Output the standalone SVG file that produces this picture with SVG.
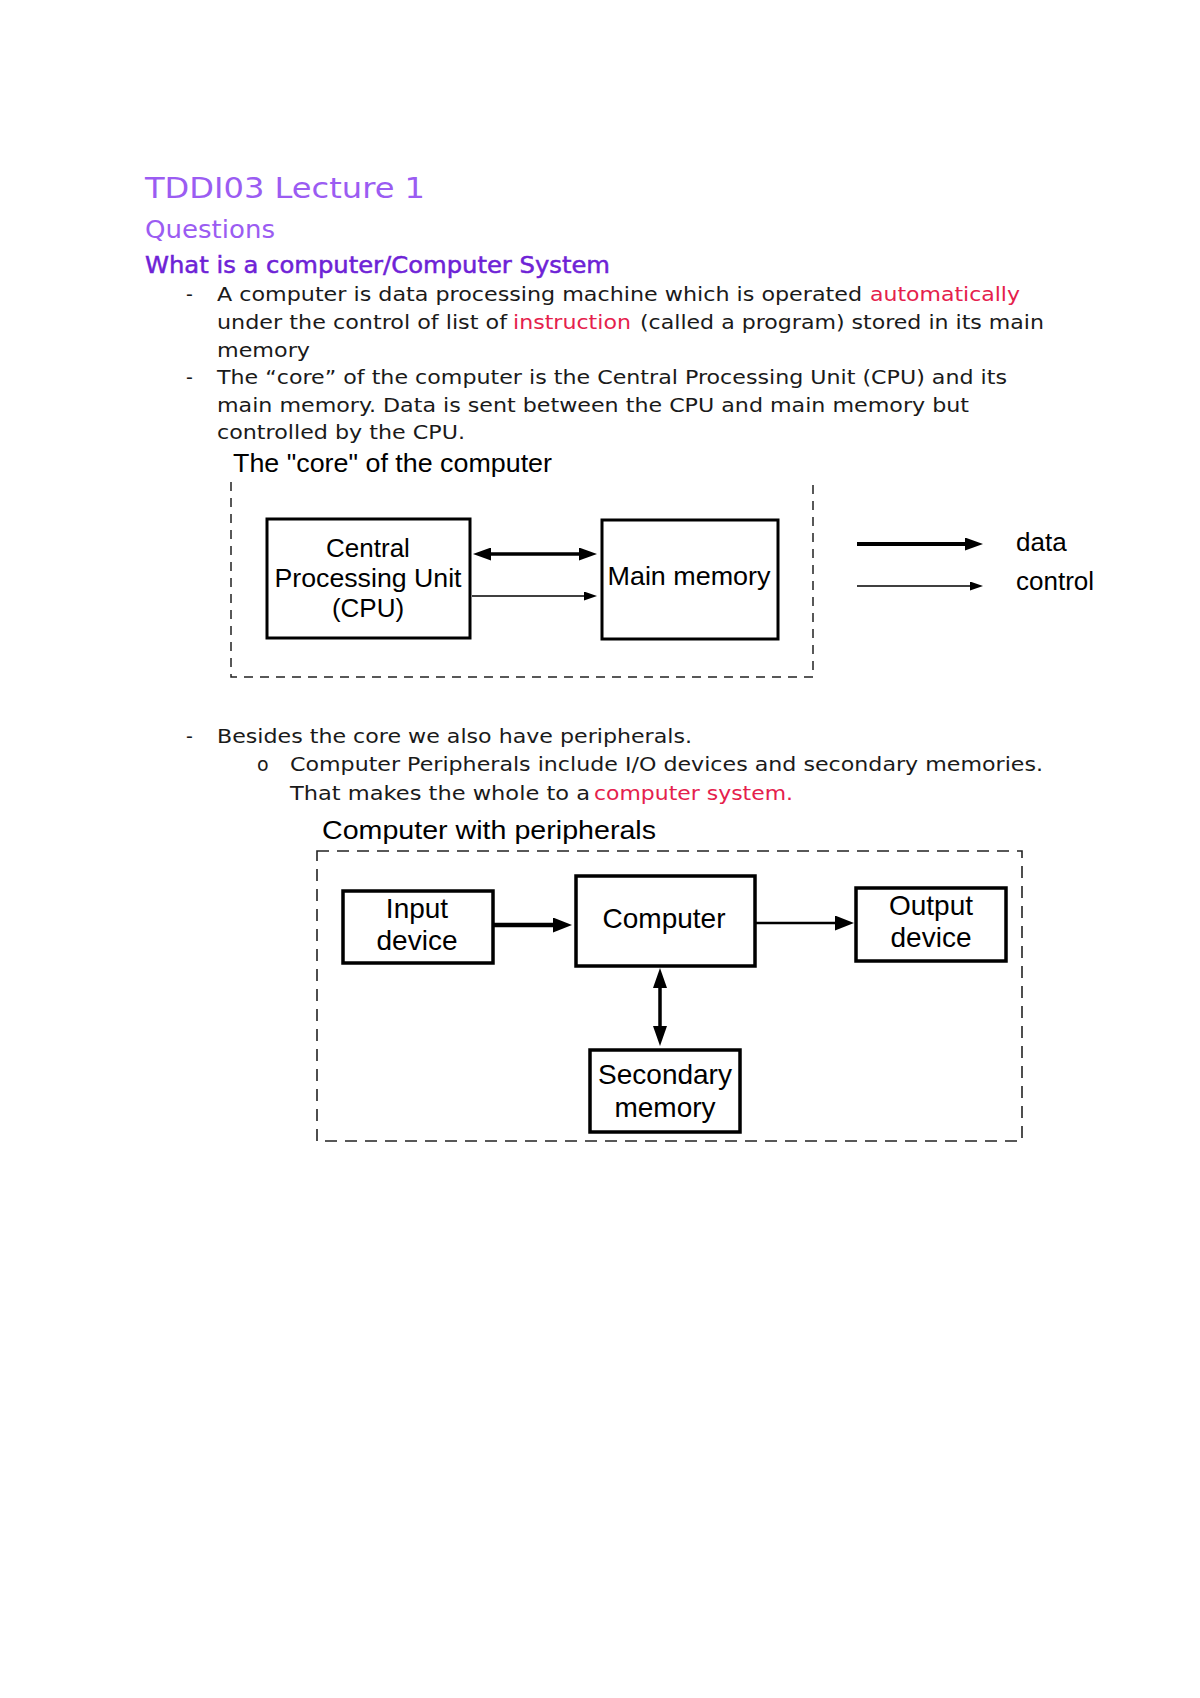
<svg xmlns="http://www.w3.org/2000/svg" width="1200" height="1698" viewBox="0 0 1200 1698">
<defs>
<style>
.body{font-family:"DejaVu Sans","Noto Sans",sans-serif;font-size:19px;fill:#1a1a1a}
.red{fill:#e5204c}
.h1{font-family:"DejaVu Sans",sans-serif;font-size:29px;fill:#9b5cf2}
.h2{font-family:"DejaVu Sans",sans-serif;font-size:25px;fill:#9b5cf2}
.h3{font-family:"DejaVu Sans",sans-serif;font-size:23px;fill:#6e22d6;stroke:#6e22d6;stroke-width:0.5}
.dg{font-family:"Liberation Sans",Arial,sans-serif;font-size:26px;fill:#000}
.dg2{font-family:"Liberation Sans",Arial,sans-serif;font-size:28px;fill:#000;text-anchor:middle}
.box{fill:#fff;stroke:#000;stroke-width:3}
.box2{fill:#fff;stroke:#000;stroke-width:3.5}
.dash1{fill:none;stroke:#222;stroke-width:1.5;stroke-dasharray:9 7}
.dash2{fill:none;stroke:#222;stroke-width:1.6;stroke-dasharray:12 8}
.ln{stroke:#000;fill:none}
</style>
<marker id="hd" markerUnits="userSpaceOnUse" markerWidth="18" markerHeight="13" refX="1" refY="6.5" orient="auto-start-reverse"><path d="M0,0 L18,6.5 L0,13 z" fill="#000"/></marker>
<marker id="hc" markerUnits="userSpaceOnUse" markerWidth="13" markerHeight="9" refX="1" refY="4.5" orient="auto-start-reverse"><path d="M0,0 L13,4.5 L0,9 z" fill="#000"/></marker>
<marker id="hb" markerUnits="userSpaceOnUse" markerWidth="19" markerHeight="15" refX="1" refY="7.5" orient="auto-start-reverse"><path d="M0,0 L19,7.5 L0,15 z" fill="#000"/></marker>
<marker id="hv" markerUnits="userSpaceOnUse" markerWidth="20" markerHeight="14" refX="1" refY="7" orient="auto-start-reverse"><path d="M0,0 L20,7 L0,14 z" fill="#000"/></marker>
</defs>
<rect width="1200" height="1698" fill="#fff"/>

<g id="headings">
<text class="h1" x="145" y="198" textLength="280" lengthAdjust="spacingAndGlyphs">TDDI03 Lecture 1</text>
<text class="h2" x="145" y="238" textLength="130" lengthAdjust="spacingAndGlyphs">Questions</text>
<text class="h3" x="145" y="273" textLength="465" lengthAdjust="spacingAndGlyphs">What is a computer/Computer System</text>
</g>

<g id="text-block-1">
<text class="body" x="186" y="301">-</text>
<text class="body" x="217" y="301" textLength="645" lengthAdjust="spacingAndGlyphs">A computer is data processing machine which is operated</text>
<text class="body red" x="870" y="301" textLength="150" lengthAdjust="spacingAndGlyphs">automatically</text>
<text class="body" x="217" y="329" textLength="290" lengthAdjust="spacingAndGlyphs">under the control of list of</text>
<text class="body red" x="513" y="329" textLength="118" lengthAdjust="spacingAndGlyphs">instruction</text>
<text class="body" x="640" y="329" textLength="404" lengthAdjust="spacingAndGlyphs">(called a program) stored in its main</text>
<text class="body" x="217" y="357" textLength="93" lengthAdjust="spacingAndGlyphs">memory</text>
<text class="body" x="186" y="384">-</text>
<text class="body" x="217" y="384" textLength="790" lengthAdjust="spacingAndGlyphs">The “core” of the computer is the Central Processing Unit (CPU) and its</text>
<text class="body" x="217" y="412" textLength="752" lengthAdjust="spacingAndGlyphs">main memory. Data is sent between the CPU and main memory but</text>
<text class="body" x="217" y="439" textLength="248" lengthAdjust="spacingAndGlyphs">controlled by the CPU.</text>
</g>

<g id="diagram-core">
<text class="dg" x="233" y="472" textLength="319" lengthAdjust="spacingAndGlyphs">The "core" of the computer</text>
<path class="dash1" d="M231,482 V677 H813 V482"/>
<g id="cpu">
<rect class="box" x="267" y="519" width="203" height="119"/>
<text class="dg" x="368" y="557" text-anchor="middle">Central</text>
<text class="dg" x="368" y="587" text-anchor="middle" textLength="187" lengthAdjust="spacingAndGlyphs">Processing Unit</text>
<text class="dg" x="368" y="617" text-anchor="middle">(CPU)</text>
</g>
<g id="main-memory">
<rect class="box" x="602" y="520" width="176" height="119"/>
<text class="dg" x="689" y="585" text-anchor="middle" textLength="163" lengthAdjust="spacingAndGlyphs">Main memory</text>
</g>
<g id="legend">
<text class="dg" x="1016" y="551">data</text>
<text class="dg" x="1016" y="590">control</text>
</g>
</g>

<g id="connectors-core">
<line class="ln" x1="490" y1="554" x2="580" y2="554" stroke-width="3.5" marker-start="url(#hd)" marker-end="url(#hd)"/>
<line class="ln" x1="472" y1="596" x2="585" y2="596" stroke-width="1.5" marker-end="url(#hc)"/>
<line class="ln" x1="857" y1="544" x2="966" y2="544" stroke-width="4" marker-end="url(#hd)"/>
<line class="ln" x1="857" y1="586" x2="971" y2="586" stroke-width="1.5" marker-end="url(#hc)"/>
</g>

<g id="text-block-2">
<text class="body" x="186" y="743">-</text>
<text class="body" x="217" y="743" textLength="475" lengthAdjust="spacingAndGlyphs">Besides the core we also have peripherals.</text>
<text class="body" x="257" y="771" font-size="16">o</text>
<text class="body" x="290" y="771" textLength="753" lengthAdjust="spacingAndGlyphs">Computer Peripherals include I/O devices and secondary memories.</text>
<text class="body" x="290" y="800" textLength="300" lengthAdjust="spacingAndGlyphs">That makes the whole to a</text>
<text class="body red" x="594" y="800" textLength="199" lengthAdjust="spacingAndGlyphs">computer system.</text>
</g>

<g id="diagram-peripherals">
<text class="dg" x="322" y="839" font-size="28" textLength="334" lengthAdjust="spacingAndGlyphs">Computer with peripherals</text>
<rect class="dash2" x="317" y="851" width="705" height="290"/>
<g id="input-device">
<rect class="box2" x="343" y="891" width="150" height="72"/>
<text class="dg2" x="417" y="918">Input</text>
<text class="dg2" x="417" y="950">device</text>
</g>
<g id="computer">
<rect class="box2" x="576" y="876" width="179" height="90"/>
<text class="dg2" x="664" y="928">Computer</text>
</g>
<g id="output-device">
<rect class="box2" x="856" y="888" width="150" height="73"/>
<text class="dg2" x="931" y="915">Output</text>
<text class="dg2" x="931" y="947">device</text>
</g>
<g id="secondary-memory">
<rect class="box2" x="590" y="1050" width="150" height="82"/>
<text class="dg2" x="665" y="1084">Secondary</text>
<text class="dg2" x="665" y="1117">memory</text>
</g>
</g>

<g id="connectors-peripherals">
<line class="ln" x1="493" y1="925" x2="554" y2="925" stroke-width="4.5" marker-end="url(#hb)"/>
<line class="ln" x1="755" y1="923" x2="836" y2="923" stroke-width="2.5" marker-end="url(#hb)"/>
<line class="ln" x1="660" y1="987" x2="660" y2="1027" stroke-width="3.5" marker-start="url(#hv)" marker-end="url(#hv)"/>
</g>
</svg>
